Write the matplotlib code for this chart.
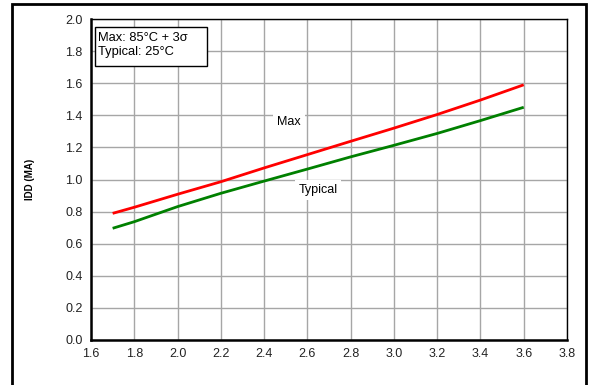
import numpy as np
import matplotlib.pyplot as plt
from matplotlib.patches import Rectangle

plt.rcParams['font.family'] = ['Liberation Sans', 'DejaVu Sans']

# supply voltage (V) and supply current (mA)
vdd = [1.7, 1.8, 2.0, 2.2, 2.4, 2.6, 2.8, 3.0, 3.2, 3.4, 3.6]
idd_max = [0.789, 0.827, 0.908, 0.986, 1.072, 1.155, 1.238, 1.32, 1.405, 1.495, 1.59]
idd_typ = [0.696, 0.737, 0.831, 0.914, 0.99, 1.065, 1.141, 1.213, 1.287, 1.367, 1.45]

xticks = np.arange(1.6, 3.81, 0.2)
yticks = np.arange(0.0, 2.01, 0.2)

fig = plt.figure(figsize=(5.89, 3.85), dpi=100)
ax = fig.add_axes([91 / 589, 1 - 340 / 385, (567 - 91) / 589, (340 - 19) / 385])

ax.plot(vdd, idd_max, color='#ff0000', lw=2.0, solid_capstyle='butt', zorder=3)
ax.plot(vdd, idd_typ, color='#008000', lw=2.0, solid_capstyle='butt', zorder=3)

ax.set_xlim(1.6, 3.8)
ax.set_ylim(0.0, 2.0)
ax.set_xticks(xticks)
ax.set_yticks(yticks)
ax.set_xticklabels([f"{v:.1f}" for v in xticks])
ax.set_yticklabels([f"{v:.1f}" for v in yticks])
ax.tick_params(length=0, labelsize=9, colors='#222222', pad=6)
ax.grid(True, color='#a6a6a6', lw=1.0)
ax.set_axisbelow(True)

ax.spines['left'].set_linewidth(1.8)
ax.spines['bottom'].set_linewidth(1.8)
ax.spines['top'].set_linewidth(1.0)
ax.spines['right'].set_linewidth(1.0)
for s in ax.spines.values():
    s.set_color('black')

ax.set_ylabel("IDD (MA)", fontsize=7, fontweight='bold', labelpad=22)

# condition note box
ax.add_patch(Rectangle((1.6185, 1.707), 0.5175, 0.243, fc='white', ec='black', lw=1.0, zorder=4))
ax.text(1.632, 1.838, "Max: 85°C + 3σ\nTypical: 25°C", fontsize=9.3, va='center', ha='left',
        linespacing=1.25, zorder=5)

ax.text(2.515, 1.358, "Max", fontsize=9, ha='center', va='center',
        bbox=dict(boxstyle='square,pad=0.3', fc='white', ec='none'))
ax.text(2.65, 0.935, "Typical", fontsize=9, ha='center', va='center',
        bbox=dict(boxstyle='square,pad=0.3', fc='white', ec='none'))

fig.patches.append(Rectangle((12 / 589, -0.02), (586 - 12) / 589, 1 - 4 / 385 + 0.02,
                             transform=fig.transFigure, fill=False, ec='black', lw=2.0))

fig.savefig("out.png", dpi=100)
